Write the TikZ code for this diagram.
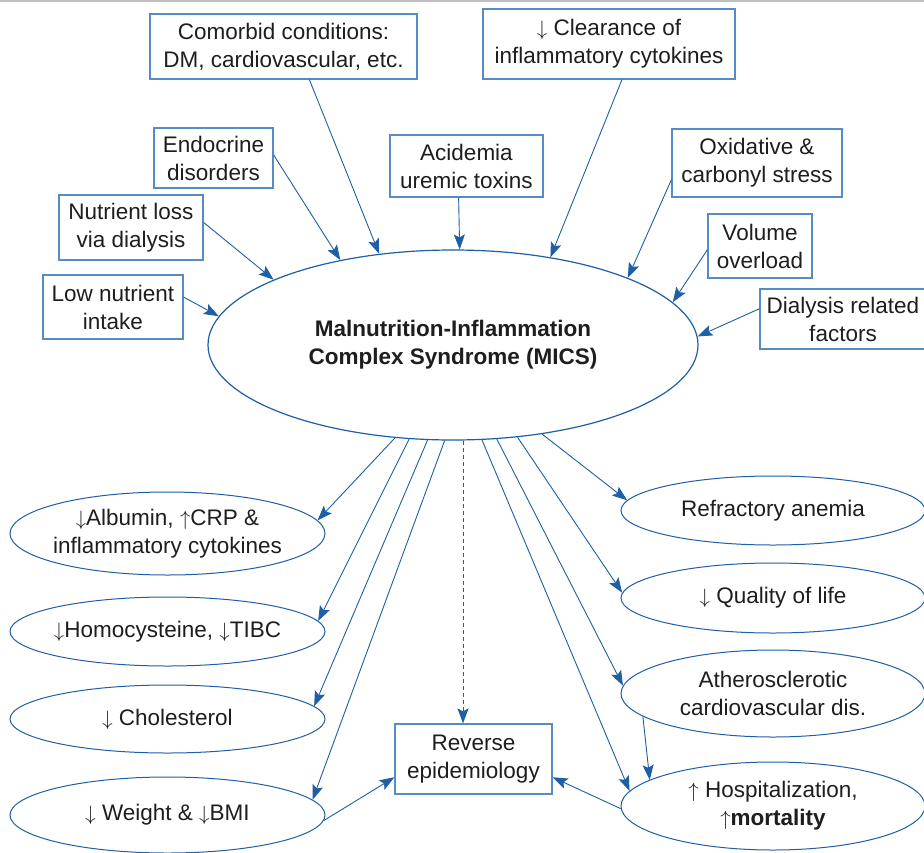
\documentclass[tikz,border=0pt]{standalone}
\usepackage{fontspec}
\setmainfont{Liberation Sans}
\usetikzlibrary{arrows.meta,shapes.geometric}
\definecolor{lineblue}{RGB}{30,95,165}
\definecolor{boxblue}{RGB}{85,140,195}
\definecolor{ink}{RGB}{30,30,30}
\newcommand{\dn}{$\downarrow$}
\newcommand{\upa}{$\uparrow$}

\begin{document}
\begin{tikzpicture}[x=1pt,y=-1pt,
  every node/.style={font=\fontsize{22.5}{28}\selectfont, text=ink, align=center},
  box/.style={draw=boxblue, line width=1.2pt, rectangle, inner sep=0pt},
  oval/.style={draw=lineblue, line width=1pt, ellipse, inner xsep=-60pt, inner ysep=-10pt},
  link/.style={draw=lineblue, line width=0.9pt, -{Stealth[length=15pt,width=11pt,inset=3pt]}},
]
\useasboundingbox (0,0) rectangle (924,852);
\clip (0,0) rectangle (924,852);
\fill[white] (0,0) rectangle (924,852);
\draw[black!25, line width=1.5pt] (0,1) -- (924,1);

% central syndrome
\node[draw=lineblue, line width=1.2pt, ellipse, inner sep=0pt,
      minimum width=490pt, minimum height=190pt] (mics) at (453,345)
  {\bfseries Malnutrition-Inflammation\\\bfseries Complex Syndrome (MICS)};

% causes
\node[box, minimum width=267pt, minimum height=65pt] (com) at (283.5,46.5)
  {Comorbid conditions:\\DM, cardiovascular, etc.};
\node[box, minimum width=252pt, minimum height=70pt] (clr) at (609,44)
  {\dn\ Clearance of\\inflammatory cytokines};
\node[box, minimum width=119pt, minimum height=60pt] (endo) at (213.5,158)
  {Endocrine\\disorders};
\node[box, minimum width=153pt, minimum height=62pt] (acid) at (466.5,166)
  {Acidemia\\uremic toxins};
\node[box, minimum width=170pt, minimum height=68pt] (oxi) at (757,163)
  {Oxidative \&\\carbonyl stress};
\node[box, minimum width=144pt, minimum height=65pt] (nut) at (131,227.5)
  {Nutrient loss\\via dialysis};
\node[box, minimum width=104pt, minimum height=64pt] (vol) at (760,246)
  {Volume\\overload};
\node[box, minimum width=140pt, minimum height=64pt] (low) at (113,307)
  {Low nutrient\\intake};
\node[box, minimum width=166pt, minimum height=60pt] (dia) at (843,319)
  {Dialysis related\\factors};

\draw[link] (com.308) -- (mics.129);
\draw[link] (clr.290) -- (mics.42);
\draw[link] (endo.3) -- (mics.143);
\draw[link] (acid.256) -- (mics.86);
\draw[link] (oxi.191) -- (mics.21);
\draw[link] (nut.4) -- (mics.160);
\draw[link] (vol.184) -- (mics.11);
\draw[link] (low.8) -- (mics.173);
\draw[link] (dia.173) -- (mics.2);

% consequences, left column
\node[oval, minimum width=315pt, minimum height=83pt] (alb) at (167.5,533.5)
  {\dn Albumin, \upa CRP \&\\inflammatory cytokines};
\node[oval, minimum width=315pt, minimum height=69pt] (homo) at (167.5,631.5)
  {\dn Homocysteine, \dn TIBC};
\node[oval, minimum width=315pt, minimum height=68pt] (chol) at (167.5,719)
  {\dn\ Cholesterol};
\node[oval, minimum width=315pt, minimum height=76pt] (wt) at (167.5,815)
  {\dn\ Weight \& \dn BMI};

% consequences, right column
\node[oval, minimum width=304pt, minimum height=69pt] (refr) at (773,510.5)
  {Refractory anemia};
\node[oval, minimum width=304pt, minimum height=70pt] (qual) at (773,598)
  {\dn\ Quality of life};
\node[oval, minimum width=304pt, minimum height=87pt] (ath) at (773,693.5)
  {Atherosclerotic\\cardiovascular dis.};
\node[oval, minimum width=304pt, minimum height=88pt] (hosp) at (773,806)
  {\upa\ Hospitalization,\\\upa\textbf{mortality}};

\node[box, minimum width=157pt, minimum height=70pt] (rev) at (473.5,759)
  {Reverse\\epidemiology};

\draw[link] (mics.238.6) -- (alb.5);
\draw[link] (mics.245.6) -- (homo.4);
\draw[link] (mics.255.3) -- (chol.5);
\draw[link] (mics.265.2) -- (wt.6);
\draw[link, dash pattern=on 4pt off 3pt] (mics.276) -- (mics.276 |- rev.north);
\draw[link] (mics.287.5) -- (hosp.174);
\draw[link] (mics.295.4) -- (ath.177);
\draw[link] (mics.305.2) -- (qual.178);
\draw[link] (mics.315) -- (refr.176);

\draw[link] (ath.190) -- (hosp.168);
\draw[link] (wt.-2) -- (rev.193);
\draw[link] (hosp.181) -- (rev.347);
\end{tikzpicture}
\end{document}
